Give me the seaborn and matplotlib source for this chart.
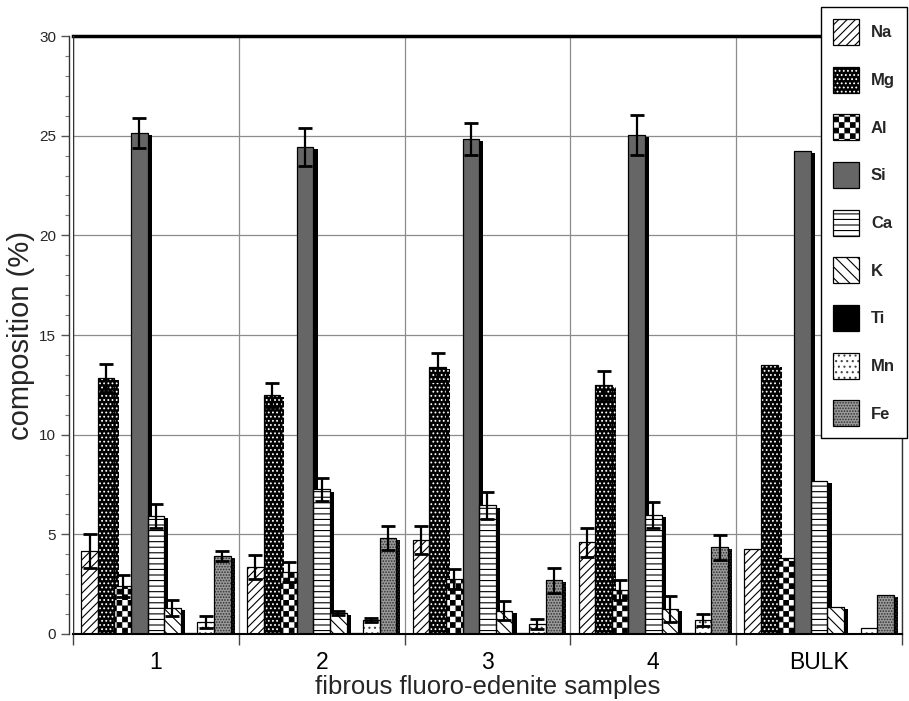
import numpy as np
import pandas as pd
import matplotlib
matplotlib.use("Agg")
import matplotlib.pyplot as plt
import matplotlib.hatch as mhatch
import matplotlib.patheffects as pe
from matplotlib.path import Path
from matplotlib.patches import Patch
from matplotlib.legend_handler import HandlerTuple
import seaborn as sns

# ---------------- data ----------------
samples = ["1", "2", "3", "4", "BULK"]
elements = ["Na", "Mg", "Al", "Si", "Ca", "K", "Ti", "Mn", "Fe"]

Na = [4.15, 3.35, 4.70, 4.60, 4.27]
Mg = [12.85, 12.00, 13.40, 12.50, 13.50]
Al = [2.40, 3.10, 2.75, 2.20, 3.80]
Si = [25.15, 24.45, 24.85, 25.05, 24.25]
Ca = [5.90, 7.25, 6.45, 5.95, 7.70]
K = [1.30, 1.05, 1.17, 1.25, 1.35]
Ti = [0.05, 0.05, 0.05, 0.05, 0.00]
Mn = [0.60, 0.70, 0.50, 0.70, 0.30]
Fe = [3.90, 4.80, 2.70, 4.35, 1.95]

Na_err = [0.85, 0.60, 0.70, 0.73, 0.0]
Mg_err = [0.70, 0.60, 0.70, 0.70, 0.0]
Al_err = [0.55, 0.50, 0.50, 0.50, 0.0]
Si_err = [0.75, 0.95, 0.80, 1.00, 0.0]
Ca_err = [0.60, 0.60, 0.67, 0.65, 0.0]
K_err = [0.38, 0.10, 0.49, 0.65, 0.0]
Ti_err = [0.0, 0.0, 0.0, 0.0, 0.0]
Mn_err = [0.32, 0.10, 0.25, 0.30, 0.0]
Fe_err = [0.25, 0.60, 0.62, 0.64, 0.0]

values = {"Na": Na, "Mg": Mg, "Al": Al, "Si": Si, "Ca": Ca, "K": K,
          "Ti": Ti, "Mn": Mn, "Fe": Fe}
errors = {"Na": Na_err, "Mg": Mg_err, "Al": Al_err, "Si": Si_err, "Ca": Ca_err,
          "K": K_err, "Ti": Ti_err, "Mn": Mn_err, "Fe": Fe_err}

rows = []
for el in elements:
    for s, v in zip(samples, values[el]):
        rows.append({"sample": s, "element": el, "value": v})
df = pd.DataFrame(rows)

# ---------------- checkerboard hatch (replaces '*') ----------------
class CheckerHatch(mhatch.HatchPatternBase):
    def __init__(self, hatch, density):
        self.n = hatch.count('*') * density
        self.num_vertices = (self.n * self.n // 2) * 5 if self.n else 0

    def set_vertices_and_codes(self, vertices, codes):
        n = self.n
        s = 1.0 / n
        d = 0.09 * s
        k = 0
        for i in range(n):
            for j in range(n):
                if (i + j) % 2 == 0 and k < self.num_vertices:
                    x0, y0 = i * s + d, j * s + d
                    w = s - 2 * d
                    vertices[k:k + 5] = [(x0, y0), (x0 + w, y0), (x0 + w, y0 + w),
                                         (x0, y0 + w), (x0, y0)]
                    codes[k:k + 5] = [Path.MOVETO, Path.LINETO, Path.LINETO,
                                      Path.LINETO, Path.CLOSEPOLY]
                    k += 5

mhatch._hatch_types[mhatch._hatch_types.index(mhatch.Stars)] = CheckerHatch

# ---------------- styles ----------------
# element: (face, hatch, hatch colour)
styles = {
    "Na": ("white", "////", "black"),
    "Mg": ("black", "....", "white"),
    "Al": ("white", "***", "black"),
    "Si": ("#666666", "", "#666666"),
    "Ca": ("white", "---", "black"),
    "K": ("white", "\\\\\\", "black"),
    "Ti": ("black", "", "black"),
    "Mn": ("white", "...", "#444444"),
    "Fe": ("#9a9a9a", "......", "#303030"),
}

sns.set_theme(style="white")
plt.rcParams["font.family"] = ["Liberation Sans", "DejaVu Sans"]
plt.rcParams["hatch.linewidth"] = 0.8

fig = plt.figure(figsize=(9.09, 7.01), dpi=100)
ax = fig.add_axes([0.0803, 0.0956, 0.9923 - 0.0803, 0.9486 - 0.0956])

palette = {el: styles[el][0] for el in elements}
sns.barplot(data=df, x="sample", y="value", hue="element", order=samples,
            hue_order=elements, palette=palette, saturation=1, width=0.9,
            errorbar=None, legend=False, ax=ax)

shadow = [pe.SimplePatchShadow(offset=(3, -1.5), shadow_rgbFace="black", alpha=1.0),
          pe.Normal()]

for i, el in enumerate(elements):
    face, hatch, hcol = styles[el]
    cont = ax.containers[i]
    xs = []
    for bar in cont:
        bar.set_facecolor(face)
        bar.set_edgecolor(hcol)
        bar.set_hatch(hatch if hatch else None)
        bar.set_linewidth(0)
        bar.set_path_effects(shadow)
        bar.set_zorder(2)
        outline = plt.Rectangle((bar.get_x(), bar.get_y()), bar.get_width(),
                                bar.get_height(), fill=False, edgecolor="black",
                                linewidth=0.9, zorder=2.1)
        ax.add_patch(outline)
        xs.append(bar.get_x() + bar.get_width() / 2)
    xs = np.array(xs)
    v = np.array(values[el])
    e = np.array(errors[el])
    m = e > 0
    if m.any():
        ax.errorbar(xs[m], v[m], yerr=e[m], fmt="none", ecolor="black",
                    elinewidth=1.6, capsize=5, capthick=2, zorder=3)

# ---------------- axes ----------------
ax.set_xlim(-0.5, 4.5)
ax.set_ylim(0, 30)
ax.set_yticks(np.arange(0, 31, 5))
ax.set_yticks(np.arange(0, 31, 1), minor=True)
ax.set_xticks(range(len(samples)))
ax.set_xticklabels(samples)
ax.set_xticks(np.arange(-0.5, 5.0, 1.0), minor=True)

ax.grid(True, axis="y", which="major", color="#8c8c8c", linewidth=0.9, zorder=0)
ax.grid(True, axis="x", which="minor", color="#8c8c8c", linewidth=0.9, zorder=0)
ax.set_axisbelow(True)

ax.tick_params(axis="x", which="major", length=0, pad=12, labelsize=16.5, colors="black")
ax.tick_params(axis="x", which="minor", length=8, width=1, color="#444444", bottom=True)
ax.tick_params(axis="y", which="major", length=6, width=1, color="#555555",
               labelsize=11, pad=3, left=True)
ax.tick_params(axis="y", which="minor", length=3, width=0.8, color="#777777", left=True)

for side in ["left", "right", "top", "bottom"]:
    ax.spines[side].set_visible(True)
ax.spines["top"].set_linewidth(2.5)
ax.spines["top"].set_color("black")
ax.spines["bottom"].set_linewidth(1.5)
ax.spines["bottom"].set_color("black")
ax.spines["right"].set_linewidth(1.0)
ax.spines["right"].set_color("#333333")
ax.spines["left"].set_position(("outward", 3))
ax.spines["left"].set_linewidth(1.0)
ax.spines["left"].set_color("#333333")
ax.axvline(-0.5, color="#333333", linewidth=1.0, zorder=4)

ax.set_xlabel("fibrous fluoro-edenite samples", fontsize=18.5, labelpad=1)
ax.set_ylabel("composition (%)", fontsize=21, labelpad=3)

# ---------------- legend ----------------
handles = []
for el in elements:
    face, hatch, hcol = styles[el]
    fill = Patch(facecolor=face, edgecolor=hcol, hatch=hatch if hatch else None,
                 linewidth=0)
    edge = Patch(facecolor="none", edgecolor="black", linewidth=0.9)
    handles.append((fill, edge))

leg = ax.legend(handles, elements, handler_map={tuple: HandlerTuple(ndivide=1, pad=0)},
                loc="upper left", bbox_to_anchor=(0.903, 0.990),
                bbox_transform=fig.transFigure, borderaxespad=0,
                prop={"weight": "bold", "size": 12}, handlelength=1.56,
                handleheight=2.02, labelspacing=1.30, borderpad=0.73,
                handletextpad=0.72, frameon=True, fancybox=False,
                framealpha=1, edgecolor="black", facecolor="white")
leg.get_frame().set_linewidth(1.0)
leg.set_zorder(10)

fig.savefig("out.png", dpi=100)
